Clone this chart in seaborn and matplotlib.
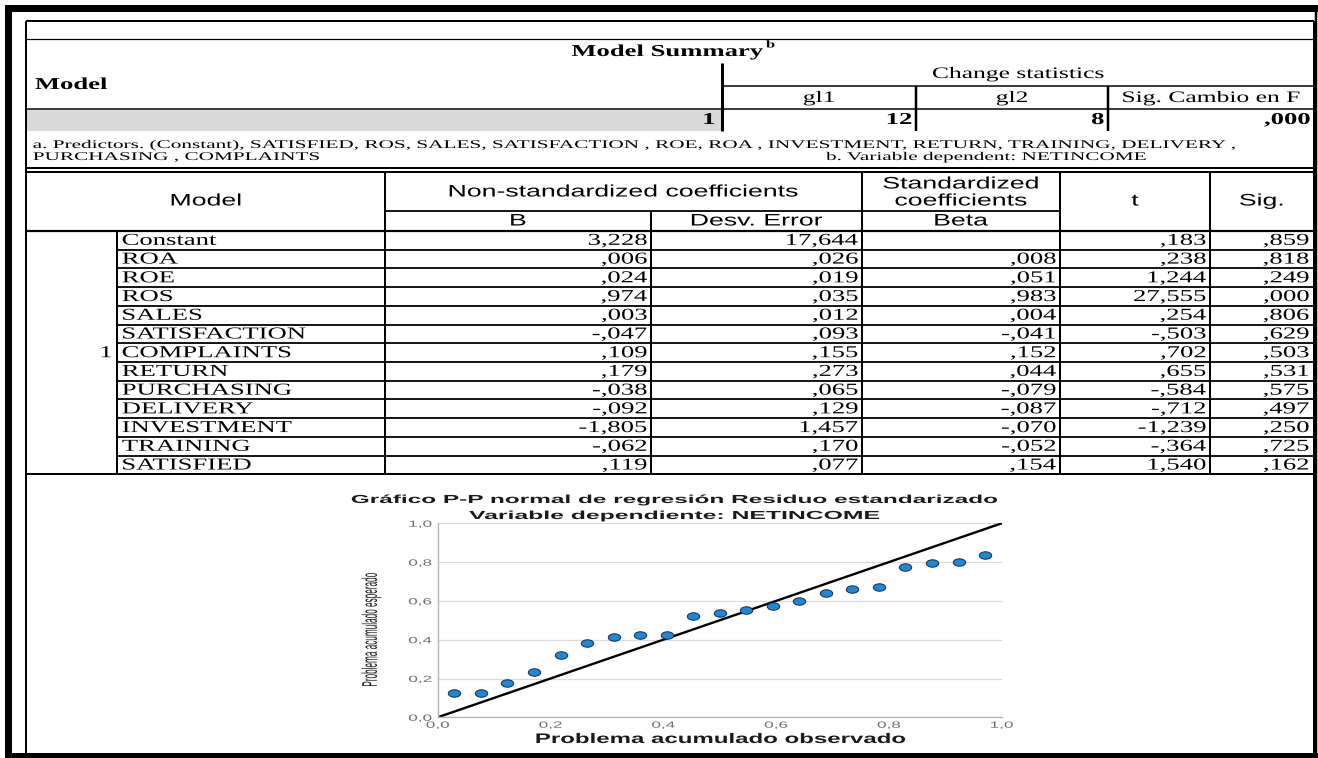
import numpy as np
import matplotlib
matplotlib.use("Agg")
import matplotlib.pyplot as plt
import seaborn as sns
from matplotlib import patheffects
from matplotlib.transforms import Affine2D
from matplotlib.path import Path
from matplotlib.patches import Rectangle

# ---------------- data ----------------
summary_headers = ["gl1", "gl2", "Sig. Cambio en F"]
summary_values = ["12", "8", ",000"]
model_id = "1"

predictors = ["Constant", "ROA", "ROE", "ROS", "SALES", "SATISFACTION",
              "COMPLAINTS", "RETURN", "PURCHASING", "DELIVERY",
              "INVESTMENT", "TRAINING", "SATISFIED"]
coef_b = [3.228, .006, .024, .974, .003, -.047, .109, .179, -.038, -.092,
          -1.805, -.062, .119]
coef_se = [17.644, .026, .019, .035, .012, .093, .155, .273, .065, .129,
           1.457, .170, .077]
coef_beta = [None, .008, .051, .983, .004, -.041, .152, .044, -.079, -.087,
             -.070, -.052, .154]
t_values = [.183, .238, 1.244, 27.555, .254, -.503, .702, .655, -.584,
            -.712, -1.239, -.364, 1.540]
sig_values = [.859, .818, .249, .000, .806, .629, .503, .531, .575, .497,
              .250, .725, .162]

pp_observed = [0.029, 0.076, 0.123, 0.171, 0.218, 0.265, 0.312, 0.359,
               0.406, 0.453, 0.500, 0.547, 0.594, 0.641, 0.688, 0.735,
               0.782, 0.829, 0.876, 0.924, 0.971]
pp_expected = [0.124, 0.127, 0.175, 0.235, 0.321, 0.381, 0.415, 0.426,
               0.424, 0.524, 0.540, 0.552, 0.574, 0.600, 0.639, 0.661,
               0.672, 0.773, 0.794, 0.802, 0.835]
diagonal = [0.0, 1.0]
axis_ticks = [0.0, 0.2, 0.4, 0.6, 0.8, 1.0]

predictor_note = ("a. Predictors. (Constant), SATISFIED, ROS, SALES, SATISFACTION , "
                  "ROE, ROA , INVESTMENT, RETURN, TRAINING, DELIVERY ,")
predictor_note2 = "PURCHASING , COMPLAINTS"
dependent_note = "b. Variable dependent: NETINCOME"


def spss(v):
    """SPSS-style number: three decimals, comma separator, no leading zero."""
    if v is None:
        return ""
    s = f"{abs(v):.3f}".replace(".", ",")
    if s.startswith("0,"):
        s = s[1:]
    return ("-" if v < 0 else "") + s


class Stretch(patheffects.AbstractPathEffect):
    """Scale glyph outlines about an anchor along the text line."""

    def __init__(self, sx=1.0, sy=1.0, anchor=0.0):
        super().__init__()
        self.sx, self.sy, self.anchor = sx, sy, anchor

    def draw_path(self, renderer, gc, tpath, affine, rgbFace=None):
        ext = tpath.get_extents()
        px = ext.x0 + self.anchor * ext.width
        py = 0.5 * (ext.y0 + ext.y1)
        pre = Affine2D().translate(-px, -py).scale(self.sx, self.sy).translate(px, py)
        renderer.draw_path(gc, tpath, pre + affine, rgbFace)


W, H = 1318, 758
fig = plt.figure(figsize=(W / 100, H / 100), dpi=100)
fig.patch.set_facecolor("white")

# full-page canvas in pixel units for the tables and frame
page = fig.add_axes([0, 0, 1, 1])
page.set_xlim(0, W)
page.set_ylim(H, 0)
page.axis("off")

SERIF = "Liberation Serif"
SANS = "Liberation Sans"
ANCH = {"left": 0.0, "center": 0.5, "right": 1.0}


def put(x, y, s, size, fam=SERIF, weight="normal", ha="left", va="center",
        sx=1.6, sy=1.0, color="black", rotation=0, target=None):
    t = (target or page).text(x, y, s, fontsize=size, family=fam, weight=weight,
                              ha=ha, va=va, color=color, rotation=rotation)
    t.set_path_effects([Stretch(sx, sy, ANCH[ha])])
    return t


def hline(y, x0, x1, px=1.5, color="black"):
    page.plot([x0, x1], [y, y], color=color, lw=px * 0.72, solid_capstyle="butt")


def vline(x, y0, y1, px=1.5, color="black"):
    page.plot([x, x], [y0, y1], color=color, lw=px * 0.72, solid_capstyle="butt")


# ---------------- outer frame ----------------
page.add_patch(Rectangle((5, 5), W - 5, 7, color="black", lw=0))
page.add_patch(Rectangle((5, 5), 7, H - 5, color="black", lw=0))
page.add_patch(Rectangle((5, 753), W - 5, 5, color="black", lw=0))
vline(1315.5, 5, 758, px=2.5)
vline(26, 21, 753, px=2)
vline(1313.5, 21, 753, px=2)
hline(21, 26, 1314, px=2)

L, R = 26, 1314

# ---------------- model summary ----------------
hline(39, L, R, px=1.2)
put(667, 52, "Model Summary", 12, weight="bold", ha="center")
put(766, 45, "b", 7.5, weight="bold", ha="left")
put(35, 85, "Model", 12, weight="bold")
vline(722, 63, 131, px=3)
put(1018, 74, "Change statistics", 11.5, ha="center")
hline(86, 722, R, px=1.5)
col_edges = [722, 916, 1108, R]
for i, lab in enumerate(summary_headers):
    put((col_edges[i] + col_edges[i + 1]) / 2, 98, lab, 11.5, ha="center")
vline(916, 86, 131, px=2.5)
vline(1108, 86, 131, px=2.5)
hline(108.5, L, R, px=1.5)
page.add_patch(Rectangle((L + 1, 109.5), 722 - L - 2, 21.5, color="#d9d9d9", lw=0))
put(715, 120, model_id, 12, weight="bold", ha="right")
for i, val in enumerate(summary_values):
    put(col_edges[i + 1] - 4, 120, val, 12, weight="bold", ha="right")
put(33, 145, predictor_note, 8.5, sx=1.8)
put(33, 157, predictor_note2, 8.5, sx=1.8)
put(826, 157, dependent_note, 8.5, sx=1.8)
hline(168, L, R, px=2)
hline(171.5, L, R, px=2)

# ---------------- coefficients ----------------
for x in (385, 862, 1060, 1210):
    vline(x, 172, 474, px=2)
vline(651, 211, 474, px=2)
vline(117, 231, 474, px=2)
hline(211, 385, 1060, px=1.8)
hline(231, L, R, px=2.2)

put(206, 201, "Model", 12, fam=SANS, ha="center")
put(623.5, 192, "Non-standardized coefficients", 12, fam=SANS, ha="center")
put(518, 221, "B", 12, fam=SANS, ha="center")
put(756.5, 221, "Desv. Error", 12, fam=SANS, ha="center")
put(961, 184, "Standardized", 12, fam=SANS, ha="center")
put(961, 201, "coefficients", 12, fam=SANS, ha="center")
put(961, 221, "Beta", 12, fam=SANS, ha="center")
put(1135, 201, "t", 12, fam=SANS, ha="center")
put(1261.5, 201, "Sig.", 12, fam=SANS, ha="center")

row_top, row_h = 231, 18.72
columns = [coef_b, coef_se, coef_beta, t_values, sig_values]
col_right = [647, 858, 1056, 1206, 1309]
for i, name in enumerate(predictors):
    yc = row_top + (i + 0.5) * row_h + 0.5
    put(122, yc, name, 12)
    for vals, xr in zip(columns, col_right):
        put(xr, yc, spss(vals[i]), 12, ha="right")
    if i > 0:
        hline(row_top + i * row_h, 117, R, px=1.8)
put(112, row_top + 6.5 * row_h + 0.5, model_id, 12, ha="right")
hline(474, L, R, px=2)

# ---------------- normal P-P plot ----------------
x0, x1, y_top, y_bot = 437.7, 1001.7, 523.3, 717.3
ax = fig.add_axes([x0 / W, 1 - y_bot / H, (x1 - x0) / W, (y_bot - y_top) / H])
ax.set_facecolor("white")
ax.set_axisbelow(True)
ax.yaxis.grid(True, color="#d9d9d9", lw=0.9)
ax.xaxis.grid(False)

sns.lineplot(x=diagonal, y=diagonal, ax=ax, color="black", lw=1.7, zorder=2)
ellipse = Affine2D().scale(1.0, 0.6).transform_path(Path.unit_circle())
sns.scatterplot(x=pp_observed, y=pp_expected, ax=ax, marker=ellipse, s=80,
                color="#1f87d6", edgecolor="#0f2c4c", linewidth=0.7, zorder=3)

ax.set_xlim(0, 1)
ax.set_ylim(0, 1)
tick_text = [f"{v:.1f}".replace(".", ",") for v in axis_ticks]
ax.set_xticks(axis_ticks)
ax.set_yticks(axis_ticks)
ax.set_xticklabels(tick_text)
ax.set_yticklabels(tick_text)
ax.tick_params(length=0, labelsize=6.5, labelcolor="#707070")
ax.tick_params(axis="x", pad=2.5)
ax.tick_params(axis="y", pad=4.3)
for lbl in ax.get_xticklabels():
    lbl.set_family(SANS)
    lbl.set_path_effects([Stretch(1.9, 1.0, 0.5)])
for lbl in ax.get_yticklabels():
    lbl.set_family(SANS)
    lbl.set_path_effects([Stretch(1.9, 1.0, 1.0)])
for side in ("top", "right"):
    ax.spines[side].set_visible(False)
for side in ("left", "bottom"):
    ax.spines[side].set_color("#b5b5b5")
    ax.spines[side].set_linewidth(1.0)
ax.set_xlabel("")
ax.set_ylabel("")

put(674.5, 500, "Gráfico P-P normal de regresión Residuo estandarizado", 8.4,
    fam=SANS, weight="bold", ha="center", sx=2.09, color="#1a1a1a")
put(674, 516, "Variable dependiente: NETINCOME", 8.4, fam=SANS,
    weight="bold", ha="center", sx=2.12, color="#1a1a1a")
put(720.5, 739, "Problema acumulado observado", 10, fam=SANS, weight="bold",
    ha="center", sx=1.73, color="#1a1a1a")
put(372, 630, "Problema acumulado esperado", 5.9, fam=SANS, ha="center",
    sx=1.0, sy=2.6, rotation=90, color="#1a1a1a")

fig.savefig("out.png", dpi=100, facecolor="white")
